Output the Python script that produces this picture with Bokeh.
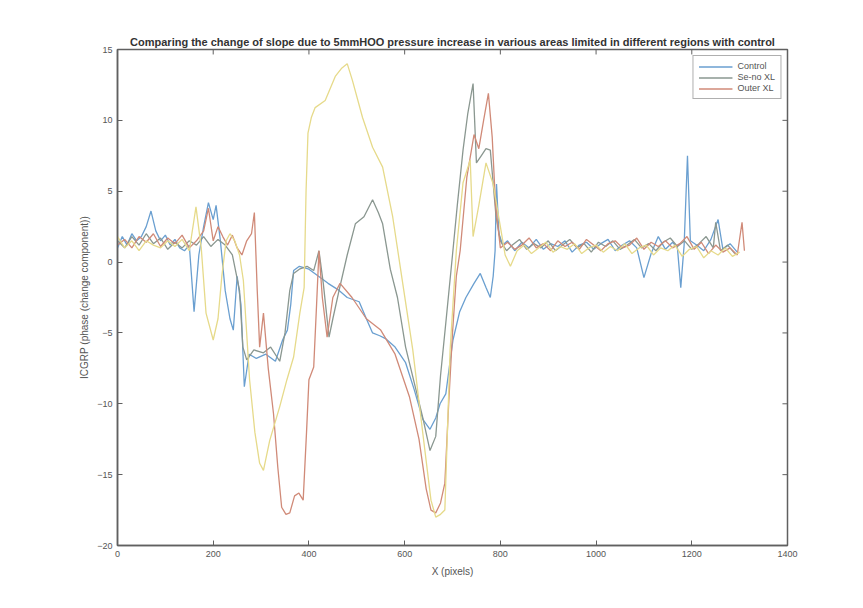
from bokeh.plotting import figure
from bokeh.models import FixedTicker, Range1d, Legend, LegendItem
from bokeh.embed import file_html
from bokeh.resources import INLINE

title_text = ("Comparing the change of slope due to 5mmHOO pressure increase "
              "in various areas limited in different regions with control")
x_label = "X (pixels)"
y_label = "ICGRP (phase (change component))"
legend_labels = ["Control", "Se-no XL", "Outer XL"]
x_ticks = [0, 200, 400, 600, 800, 1000, 1200, 1400]
y_ticks = [-20, -15, -10, -5, 0, 5, 10, 15]

blue_x = [0, 10, 20, 30, 40, 50, 60, 70, 80, 90,
          100, 110, 120, 130, 140, 150, 160, 170, 180, 190,
          200, 206, 215, 225, 235, 242, 250, 258, 265, 275,
          290, 310, 330, 345, 355, 362, 368, 380, 400, 420,
          440, 463, 480, 505, 520, 533, 548, 560, 580, 602,
          620, 638, 653, 665, 674, 686, 695, 701, 715, 728,
          745, 758, 770, 779, 785, 789, 792, 797, 805, 815,
          830, 845, 860, 875, 890, 905, 920, 935, 950, 965,
          980, 995, 1010, 1025, 1040, 1055, 1070, 1085, 1100, 1115,
          1130, 1145, 1160, 1170, 1177, 1184, 1191, 1197, 1210, 1225,
          1240, 1255, 1265, 1280, 1295]
blue_y = [1.0, 1.8, 1.2, 2.0, 1.5, 1.8, 2.5, 3.6, 2.2, 1.5,
          1.9, 1.2, 1.6, 1.0, 0.8, 1.2, -3.5, 0.5, 2.5, 4.2,
          3.0, 4.0, 1.5, -2.0, -4.0, -4.8, -1.0, -3.0, -8.8, -6.5,
          -6.8, -6.5, -7.0, -5.5, -4.8, -3.0, -0.6, -0.3, -0.5, -1.0,
          -1.5, -2.0, -2.5, -2.8, -4.0, -5.0, -5.2, -5.4, -6.0, -7.1,
          -9.0, -11.1, -11.8, -11.0, -10.0, -9.3, -7.0, -5.5, -3.5, -2.5,
          -1.5, -0.8, -1.8, -2.5, -1.0, 0.8, 5.5, 2.0, 1.2, 1.5,
          0.8, 1.4, 1.0, 1.6, 0.9, 1.3, 1.1, 1.5, 0.7, 1.2,
          1.4, 0.9, 1.3, 1.6, 0.8, 1.2, 1.5, 1.0, -1.1, 0.6,
          1.8, 0.9, 1.4, 1.0, -1.8, 1.2, 7.5, 1.5, 1.2, 0.8,
          1.6, 3.0, 0.9, 1.3, 0.7]

gray_x = [0, 15, 30, 45, 60, 75, 90, 105, 120, 135,
          150, 165, 180, 195, 210, 225, 240, 255, 262, 270,
          285, 305, 320, 339, 350, 360, 368, 380, 396, 410,
          421, 430, 442, 450, 463, 480, 497, 515, 533, 545,
          554, 570, 585, 602, 620, 638, 653, 665, 675, 686,
          700, 710, 722, 732, 743, 750, 760, 770, 779, 791,
          800, 813, 825, 840, 855, 870, 885, 900, 915, 930,
          945, 960, 975, 990, 1005, 1020, 1035, 1050, 1065, 1080,
          1095, 1110, 1125, 1140, 1155, 1170, 1185, 1200, 1215, 1230,
          1245, 1250, 1260, 1275, 1290]
gray_y = [1.5, 1.0, 1.8, 1.2, 2.0, 1.3, 1.7, 0.9, 1.4, 1.0,
          1.5, 1.2, 1.8, 1.1, 1.6, 1.2, 0.5, -2.0, -6.0, -6.9,
          -6.2, -6.4, -6.0, -7.0, -5.0, -2.0, -0.8, -0.5, -0.3, -0.6,
          0.8, -1.5, -5.3, -4.0, -2.0, 0.5, 2.7, 3.2, 4.4, 3.5,
          2.7, -0.5, -2.5, -6.0, -8.5, -11.0, -13.3, -12.3, -8.0, -4.3,
          0.5, 4.0, 7.9, 10.5, 12.6, 7.0, 7.5, 8.0, 7.9, 3.2,
          1.5, 0.8, 1.2, 1.6, 0.9, 1.3, 1.0, 1.5, 0.8, 1.2,
          1.6, 1.0, 1.3, 0.7, 1.4, 1.1, 1.5, 0.9, 1.2, 1.6,
          1.0, 1.3, 0.8, 1.4, 1.7, 1.1, 1.5, 0.9, 1.3, 1.8,
          1.0, 2.8, 0.8, 1.2, 0.6]

red_x = [0, 15, 30, 45, 60, 75, 90, 105, 120, 135,
         150, 165, 180, 190, 200, 210, 220, 230, 240, 250,
         260, 270, 280, 286, 292, 297, 305, 315, 326, 335,
         343, 352, 360, 370, 379, 388, 395, 400, 410, 416,
         421, 428, 438, 450, 465, 490, 520, 550, 580, 610,
         630, 645, 655, 665, 675, 684, 692, 700, 708, 716,
         730, 745, 755, 765, 775, 783, 790, 800, 815, 830,
         845, 860, 875, 890, 905, 920, 935, 950, 965, 980,
         995, 1010, 1025, 1040, 1055, 1070, 1085, 1100, 1115, 1130,
         1145, 1160, 1175, 1190, 1205, 1220, 1235, 1250, 1265, 1280,
         1295, 1305, 1310]
red_y = [1.2, 1.6, 1.0, 1.8, 1.4, 2.0, 1.1, 1.7, 1.3, 1.9,
         1.0, 1.5, 2.2, 3.8, 1.5, 2.5, 1.8, 1.2, 1.9, 1.0,
         0.5, 1.5, 2.0, 3.5, -2.0, -6.0, -3.6, -7.5, -10.7, -14.5,
         -17.3, -17.8, -17.7, -16.5, -16.3, -16.8, -12.0, -8.3, -7.4, -3.0,
         0.8, -2.5, -5.3, -2.5, -1.5, -2.5, -4.0, -4.8, -6.5, -9.5,
         -12.5, -16.0, -17.5, -17.7, -17.0, -15.6, -10.0, -5.0, -1.0, 0.8,
         6.0, 9.0, 8.0, 10.0, 11.9, 8.8, 4.0, 1.0, 1.4, 0.9,
         1.2, 1.7, 1.0, 1.3, 0.8, 1.5, 1.1, 1.4, 0.9, 1.6,
         1.2, 0.8, 1.3, 1.5, 1.0, 1.2, 1.7, 0.9, 1.4, 1.1,
         1.5, 1.0, 1.3, 1.8, 0.9, 1.4, 0.6, 1.2, 0.7, 1.0,
         0.5, 2.8, 0.8]

yellow_x = [0, 15, 30, 45, 60, 75, 90, 105, 120, 135,
            150, 164, 175, 185, 200, 210, 218, 227, 235, 245,
            255, 263, 276, 287, 297, 305, 318, 339, 354, 368,
            381, 390, 394, 398, 405, 413, 434, 455, 469, 480,
            491, 512, 533, 554, 575, 596, 617, 638, 655, 665,
            675, 684, 695, 708, 722, 737, 743, 755, 770, 785,
            800, 810, 821, 835, 850, 865, 880, 895, 910, 925,
            940, 955, 970, 985, 1000, 1015, 1030, 1045, 1060, 1075,
            1090, 1105, 1120, 1135, 1150, 1165, 1180, 1195, 1210, 1225,
            1240, 1255, 1270, 1285, 1300]
yellow_y = [1.8, 1.0, 1.5, 0.8, 1.5, 1.2, 1.0, 1.5, 1.1, 1.6,
            0.8, 3.9, 1.0, -3.6, -5.5, -4.0, -1.0, 1.5, 2.0, 1.5,
            0.5, -1.3, -8.3, -12.0, -14.2, -14.7, -12.6, -10.2, -8.3, -6.7,
            -3.6, -1.8, 5.0, 9.1, 10.2, 10.9, 11.4, 13.1, 13.7, 14.0,
            12.8, 10.2, 8.1, 6.7, 3.2, -1.5, -6.2, -12.1, -16.8, -18.0,
            -17.8, -17.5, -6.2, 0.8, 5.6, 7.2, 1.8, 4.0, 7.0, 5.5,
            2.5, 0.5, -0.3, 0.8, 1.2, 0.6, 1.0, 1.4, 0.7, 1.1,
            0.9, 1.3, 0.6, 1.0, 1.2, 0.7, 1.1, 0.8, 1.3, 0.6,
            1.0, 1.2, 0.5, 1.0, 0.8, 1.2, 0.4, 0.9, 1.1, 0.3,
            0.8, 0.5, 1.0, 0.4, 0.7]

FONT = "Liberation Sans"
TXT = "#555555"
AX = "#606060"

X0, X1, Y0, Y1 = 0, 1400, -20, 15
p = figure(width=847, height=592, output_backend="svg", toolbar_location=None,
           x_range=Range1d(X0, X1), y_range=Range1d(Y0, Y1),
           min_border_left=117, min_border_right=60,
           min_border_top=49, min_border_bottom=47,
           title=title_text)
p.title.text_font = FONT
p.title.text_font_size = "11px"
p.title.text_font_style = "bold"
p.title.text_color = "#333333"
p.title.align = "center"
p.title.standoff = 3

p.grid.visible = False
p.outline_line_color = AX
p.outline_line_width = 1.5
p.background_fill_color = "white"
p.border_fill_color = "white"

p.xaxis.ticker = FixedTicker(ticks=x_ticks)
p.yaxis.ticker = FixedTicker(ticks=y_ticks)
p.xaxis.axis_label = x_label
p.yaxis.axis_label = y_label
for ax in p.xaxis + p.yaxis:
    ax.axis_line_color = AX
    ax.axis_line_width = 1.5
    ax.major_tick_in = 5
    ax.major_tick_out = 0
    ax.major_tick_line_color = AX
    ax.minor_tick_line_color = None
    ax.major_label_text_font = FONT
    ax.major_label_text_font_size = "9px"
    ax.major_label_text_color = TXT
    ax.axis_label_text_font = FONT
    ax.axis_label_text_font_size = "10px"
    ax.axis_label_text_font_style = "normal"
    ax.axis_label_text_color = TXT
    ax.major_label_standoff = 5
p.yaxis.axis_label_standoff = 4
p.xaxis.axis_label_standoff = 6

# inward ticks on the top and right edges of the box (MATLAB style)
tick_len_y = 0.35
tick_len_x = 10.5
p.segment(x0=x_ticks, y0=[Y1] * len(x_ticks), x1=x_ticks,
          y1=[Y1 - tick_len_y] * len(x_ticks), line_color=AX, line_width=1)
p.segment(x0=[X1] * len(y_ticks), y0=y_ticks, x1=[X1 - tick_len_x] * len(y_ticks),
          y1=y_ticks, line_color=AX, line_width=1)

lw = 1.3
r_blue = p.line(blue_x, blue_y, line_color="#6a9fd0", line_width=lw)
r_gray = p.line(gray_x, gray_y, line_color="#8a9790", line_width=lw)
r_red = p.line(red_x, red_y, line_color="#d08a78", line_width=lw)
r_yel = p.line(yellow_x, yellow_y, line_color="#e6da8a", line_width=lw)

legend = Legend(items=[LegendItem(label=legend_labels[0], renderers=[r_blue]),
                       LegendItem(label=legend_labels[1], renderers=[r_gray]),
                       LegendItem(label=legend_labels[2], renderers=[r_red])],
                location="top_right")
legend.label_text_font = FONT
legend.label_text_font_size = "9px"
legend.label_text_color = TXT
legend.label_height = 9
legend.glyph_height = 9
legend.glyph_width = 34
legend.spacing = 1
legend.padding = 5
legend.margin = 6
legend.border_line_color = AX
legend.border_line_width = 1
p.add_layout(legend)

open("out.html", "w").write(file_html(p, INLINE))
